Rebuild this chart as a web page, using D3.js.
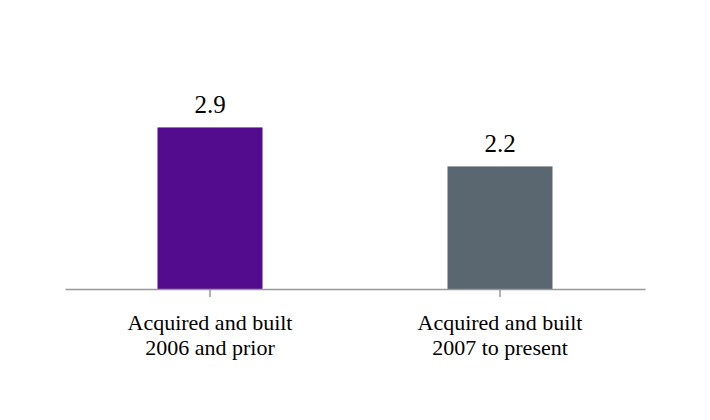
<!DOCTYPE html>
<html><head><meta charset="utf-8">
<script src="https://cdn.jsdelivr.net/npm/d3@7"></script>
<style>html,body{margin:0;padding:0;background:#fff;}</style>
</head><body>
<svg id="chart" width="710" height="420"></svg>
<script>
const categories = [["Acquired and built", "2006 and prior"], ["Acquired and built", "2007 to present"]];
const values = [2.9, 2.2];
const colors = ["#530c8d", "#5a6670"];

const svg = d3.select("#chart");
const margin = {left: 65, right: 65, top: 94, bottom: 131};
const W = 710, H = 420;
const x = d3.scaleBand().domain(d3.range(values.length)).range([margin.left, W - margin.right]).padding(0);
const y = d3.scaleLinear().domain([0, 3.5]).range([H - margin.bottom, margin.top]);
const barW = 105;
const font = '"Liberation Serif"';

svg.selectAll("rect.bar").data(values).join("rect")
  .attr("class", "bar")
  .attr("x", (d, i) => x(i) + x.bandwidth() / 2 - barW / 2)
  .attr("width", barW)
  .attr("y", d => y(d))
  .attr("height", d => y(0) - y(d))
  .attr("fill", (d, i) => colors[i]);

svg.selectAll("text.val").data(values).join("text")
  .attr("class", "val")
  .attr("x", (d, i) => x(i) + x.bandwidth() / 2)
  .attr("y", d => y(d) - 14)
  .attr("text-anchor", "middle")
  .style("font-family", font)
  .style("font-size", "25px")
  .attr("fill", "#000")
  .text(d => d.toFixed(1));

const axis = svg.append("g").attr("transform", `translate(0,${y(0)})`)
  .call(d3.axisBottom(x).tickSize(8).tickSizeOuter(0).tickFormat(() => ""));
axis.select(".domain").attr("stroke", "#999").attr("stroke-width", 1.5);
axis.selectAll(".tick line").attr("stroke", "#999").attr("stroke-width", 1.5);

const labels = svg.selectAll("text.cat").data(categories).join("text")
  .attr("class", "cat")
  .attr("text-anchor", "middle")
  .style("font-family", font)
  .style("font-size", "22px")
  .attr("fill", "#000");
labels.selectAll("tspan").data((d, i) => d.map(t => ({t, i}))).join("tspan")
  .attr("x", d => x(d.i) + x.bandwidth() / 2)
  .attr("y", (d, j) => y(0) + 41 + j * 25)
  .text(d => d.t);
</script>
</body></html>
